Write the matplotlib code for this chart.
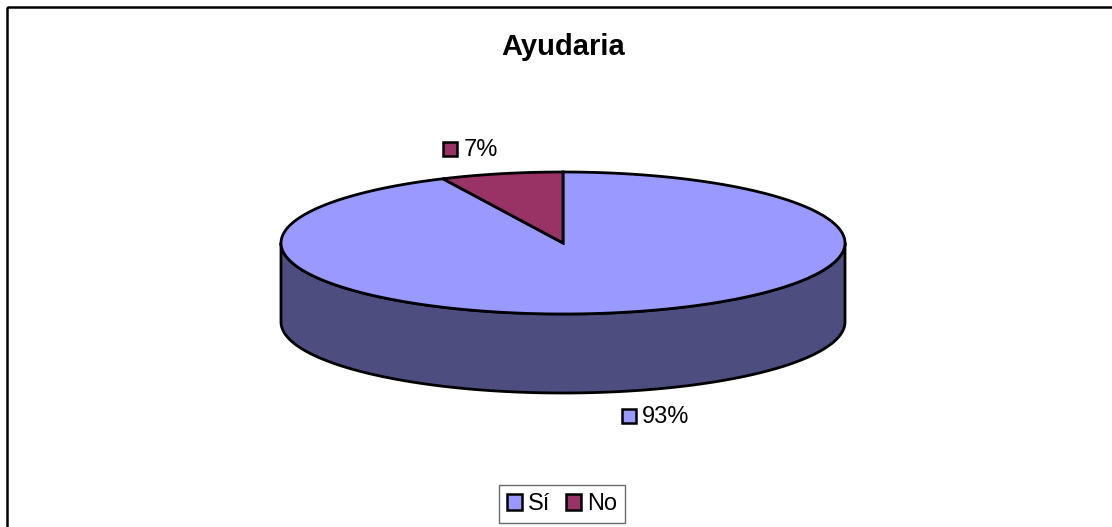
import numpy as np
import matplotlib
matplotlib.use("Agg")
import matplotlib.pyplot as plt
from matplotlib.patches import Polygon, Rectangle, Patch

# data
categories = ["Sí", "No"]
values = [93, 7]
labels = ["93%", "7%"]
colors = ["#9999FF", "#993366"]
side_colors = ["#4D4D80", "#4D1A33"]
title = "Ayudaria"

# layout (pixels)
W, H = 1112, 527
cx, cy = 563, 243
rx, ry = 282, 71
depth = 79

plt.rcParams["font.family"] = ["Liberation Sans", "DejaVu Sans"]
fig = plt.figure(figsize=(W / 100, H / 100), dpi=100)
ax = fig.add_axes([0, 0, 1, 1])
ax.set_xlim(0, W)
ax.set_ylim(H, 0)
ax.axis("off")


def ell(a_deg, dy=0.0):
    a = np.radians(a_deg)
    return cx + rx * np.cos(a), cy - ry * np.sin(a) + dy


# slice angles, clockwise from 12 o'clock
fracs = np.array(values, dtype=float) / sum(values)
starts = 90 - 360 * np.concatenate([[0], np.cumsum(fracs)[:-1]])
ends = starts - 360 * fracs

# front side wall (visible between 180 and 360 deg)
for i in range(len(values)):
    lo, hi = sorted([starts[i], ends[i]])
    for k in (-360, 0, 360):
        a0, a1 = max(lo + k, 180), min(hi + k, 360)
        if a1 <= a0:
            continue
        t = np.linspace(a0, a1, 200)
        top = [ell(a) for a in t]
        bot = [ell(a, depth) for a in t[::-1]]
        ax.add_patch(Polygon(top + bot, closed=True, facecolor=side_colors[i],
                             edgecolor="black", lw=2, joinstyle="round", zorder=1))

# top faces
for i in range(len(values)):
    t = np.linspace(starts[i], ends[i], 400)
    pts = [(cx, cy)] + [ell(a) for a in t]
    ax.add_patch(Polygon(pts, closed=True, facecolor=colors[i], edgecolor="black",
                         lw=2, joinstyle="miter", zorder=2))

# data labels with colour key
label_offsets = {0: (31, 104), 1: (-24, -25)}
for i in range(len(values)):
    mid = (starts[i] + ends[i]) / 2
    x, y = ell(mid)
    dx, dy = label_offsets[i]
    lx, ly = x + dx, y + dy
    ax.add_patch(Rectangle((lx - 34, ly - 7), 14, 14, facecolor=colors[i],
                           edgecolor="black", lw=1.8, zorder=3))
    ax.text(lx - 14, ly + 1, labels[i], fontsize=17, ha="left", va="center", zorder=3)

ax.text(cx, 47, title, fontsize=21, fontweight="bold", ha="center", va="center")

# chart frame
ax.add_patch(Rectangle((7, 7), W + 20, H + 20, fill=False, edgecolor="black", lw=1.8))

handles = [Patch(facecolor=c, edgecolor="black", lw=1.8) for c in colors]
leg = fig.legend(handles, categories, loc="center", bbox_to_anchor=(562 / W, 1 - 504 / H),
                 ncol=2, fontsize=17, frameon=True, fancybox=False, handlelength=0.65,
                 handleheight=0.65, handletextpad=0.25, columnspacing=0.65,
                 borderpad=0.35, borderaxespad=0)
leg.get_frame().set_edgecolor("#444444")
leg.get_frame().set_linewidth(1.0)

fig.savefig("out.png", dpi=100, facecolor="white")
